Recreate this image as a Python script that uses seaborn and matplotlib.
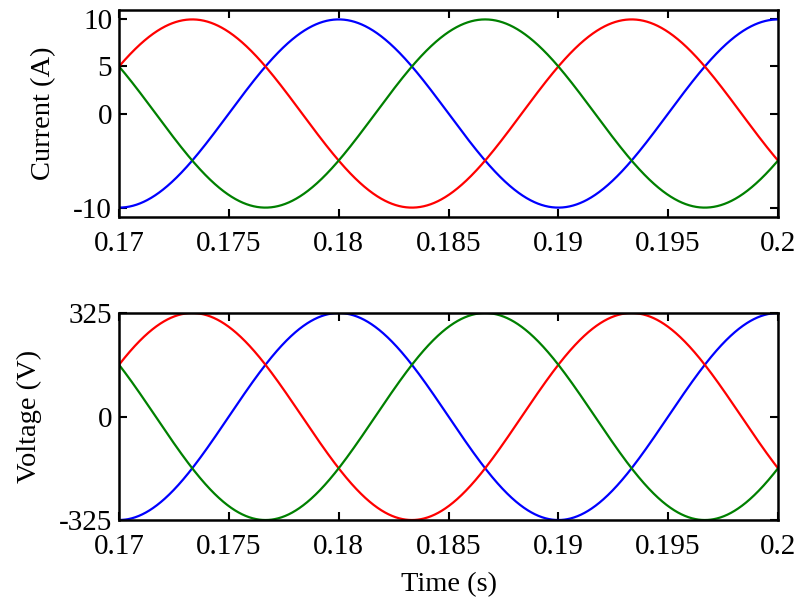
import numpy as np
import pandas as pd
import matplotlib
matplotlib.use("Agg")
import matplotlib.pyplot as plt
import seaborn as sns

# Three-phase waveform parameters
time_start, time_end = 0.17, 0.2
frequency_hz = 50
phase_names = ["a", "b", "c"]
phase_angles_deg = [0, 120, -120]
phase_colors = ["#0000ff", "#ff0000", "#008000"]
current_peak = 10
voltage_peak = 325

x_ticks = [0.17, 0.175, 0.18, 0.185, 0.19, 0.195, 0.2]
x_tick_labels = ["0.17", "0.175", "0.18", "0.185", "0.19", "0.195", "0.2"]
current_ticks = [-10, 0, 5, 10]
current_tick_labels = ["-10", "0", "5", "10"]
voltage_ticks = [-325, 0, 325]
voltage_tick_labels = ["-325", "0", "325"]

t = np.linspace(time_start, time_end, 1500)


def three_phase(peak):
    frames = []
    for name, ang in zip(phase_names, phase_angles_deg):
        frames.append(pd.DataFrame({
            "t": t,
            "value": peak * np.cos(2 * np.pi * frequency_hz * t + np.deg2rad(ang)),
            "phase": name,
        }))
    return pd.concat(frames, ignore_index=True)


current_df = three_phase(current_peak)
voltage_df = three_phase(voltage_peak)

sns.set_theme(style="ticks")
plt.rcParams["font.family"] = ["Liberation Serif", "DejaVu Serif"]
plt.rcParams["text.color"] = "black"
plt.rcParams["axes.labelcolor"] = "black"
plt.rcParams["xtick.color"] = "black"
plt.rcParams["ytick.color"] = "black"

fig = plt.figure(figsize=(8.01, 6.03), dpi=100)
ax1 = fig.add_axes([0.1486, 0.6401, 0.8227, 0.3433])
ax2 = fig.add_axes([0.1486, 0.1376, 0.8227, 0.3433])

palette = dict(zip(phase_names, phase_colors))

for ax, df, ylim, yt, ytl, ylabel in [
    (ax1, current_df, (-11, 11), current_ticks, current_tick_labels, "Current (A)"),
    (ax2, voltage_df, (-325, 325), voltage_ticks, voltage_tick_labels, "Voltage (V)"),
]:
    sns.lineplot(data=df, x="t", y="value", hue="phase", palette=palette,
                 linewidth=1.6, legend=False, ax=ax, estimator=None)
    ax.set_xlim(time_start, time_end)
    ax.set_ylim(*ylim)
    ax.set_xticks(x_ticks)
    ax.set_xticklabels(x_tick_labels)
    ax.set_yticks(yt)
    ax.set_yticklabels(ytl)
    ax.set_ylabel(ylabel, fontsize=20.5, labelpad=12, color="black")
    ax.set_xlabel("")
    ax.tick_params(direction="in", length=6, width=1.5, labelsize=21,
                   top=True, right=True, colors="black", labelcolor="black")
    ax.tick_params(axis="x", pad=10)
    ax.tick_params(axis="y", pad=5)
    for s in ax.spines.values():
        s.set_linewidth(1.8)
        s.set_color("black")
        s.set_visible(True)

ax2.set_xlabel("Time (s)", fontsize=20.5, labelpad=9, color="black")

fig.savefig("out.png", dpi=100)
